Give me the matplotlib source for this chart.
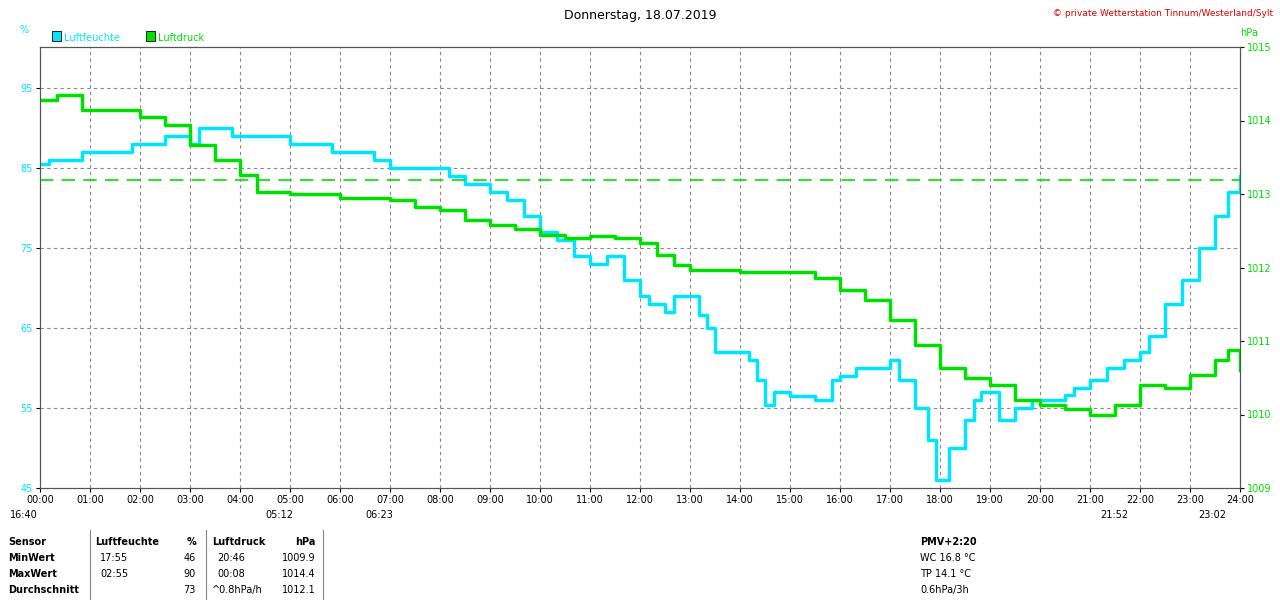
import matplotlib
matplotlib.use("Agg")
import matplotlib.pyplot as plt

# time in hours
hum_t = [0, 0.17, 0.83, 1.83, 2.5, 3.0, 3.17, 3.83, 5.0, 5.83, 6.67, 7.0, 8.17, 8.5, 9.0, 9.33,
         9.67, 10.0, 10.33, 10.67, 11.0, 11.33, 11.67, 12.0, 12.17, 12.5, 12.67, 13.17, 13.33, 13.5,
         14.17, 14.33, 14.5, 14.67, 15.0, 15.5, 15.83, 16.0, 16.33, 16.67, 17.0, 17.17, 17.5, 17.75,
         17.92, 18.17, 18.5, 18.67, 18.83, 19.17, 19.5, 19.83, 20.5, 20.67, 21.0, 21.33, 21.67, 22.0,
         22.17, 22.5, 22.83, 23.17, 23.5, 23.75, 24.0]
hum_v = [85.5, 86, 87, 88, 89, 88, 90, 89, 88, 87, 86, 85, 84, 83, 82, 81,
         79, 77, 76, 74, 73, 74, 71, 69, 68, 67, 69, 66.6, 65, 62,
         61, 58.5, 55.4, 57, 56.5, 56, 58.5, 59, 60, 60, 61, 58.5, 55, 51,
         46, 50, 53.5, 56, 57, 53.5, 55, 56, 56.6, 57.5, 58.5, 60, 61, 62,
         64, 68, 71, 75, 79, 82, 84]

pres_t = [0, 0.33, 0.83, 1.5, 2.0, 2.5, 3.0, 3.5, 4.0, 4.33, 5.0, 6.0, 7.0, 7.5, 8.0, 8.5, 9.0,
          9.5, 10.0, 10.5, 11.0, 11.5, 12.0, 12.33, 12.67, 13.0, 14.0, 15.0, 15.5, 16.0, 16.5,
          17.0, 17.5, 18.0, 18.5, 19.0, 19.5, 20.0, 20.5, 21.0, 21.5, 22.0, 22.5, 23.0, 23.5,
          23.75, 24.0]
pres_v = [1014.28, 1014.35, 1014.14, 1014.14, 1014.05, 1013.94, 1013.67, 1013.46, 1013.26,
          1013.03, 1013.0, 1012.95, 1012.92, 1012.82, 1012.78, 1012.65, 1012.58, 1012.52,
          1012.44, 1012.4, 1012.43, 1012.4, 1012.33, 1012.17, 1012.03, 1011.97, 1011.94,
          1011.94, 1011.86, 1011.69, 1011.56, 1011.29, 1010.95, 1010.63, 1010.5, 1010.4,
          1010.2, 1010.13, 1010.07, 1010.0, 1010.13, 1010.4, 1010.36, 1010.54, 1010.74,
          1010.88, 1010.61]
pres_ref = 1013.19

hour_labels = ["%02d:00" % h for h in range(25)]
hum_ticks = [45, 55, 65, 75, 85, 95]
pres_ticks = [1009, 1010, 1011, 1012, 1013, 1014, 1015]

cyan = "#00e5ff"
green = "#00e000"

fig = plt.figure(figsize=(12.8, 6), dpi=100, facecolor="white")
ax = fig.add_axes([40/1280, 112/600, 1200/1280, 441/600])
ax.set_xlim(0, 24)
ax.set_ylim(45, 100.1)
ax2 = ax.twinx()
ax2.set_ylim(1009, 1015)

for h in range(1, 24):
    ax.axvline(h, color="#888888", ls=(0, (3, 3)), lw=0.8)
for v in hum_ticks[1:]:
    ax.axhline(v, color="#888888", ls=(0, (3, 3)), lw=0.8)
ax2.axhline(pres_ref, color=green, ls=(0, (8, 5)), lw=1.2)

ax.step(hum_t, hum_v, where="post", color=cyan, lw=2.5, zorder=3)
ax2.step(pres_t, pres_v, where="post", color=green, lw=2.5)

ax.set_xticks(range(25))
ax.set_xticklabels(hour_labels, fontsize=7)
ax.set_yticks(hum_ticks)
ax.set_yticklabels([str(v) for v in hum_ticks], fontsize=7, color=cyan)
ax2.set_yticks(pres_ticks)
ax2.set_yticklabels([str(v) for v in pres_ticks], fontsize=7, color=green)
ax.tick_params(length=3, pad=2)
ax2.tick_params(length=3, pad=2)
for a in (ax, ax2):
    for s in a.spines.values():
        s.set_color("#555555")

fig.text(0.5, 0.975, "Donnerstag, 18.07.2019", ha="center", va="center", fontsize=9)
fig.text(0.995, 0.978, "© private Wetterstation Tinnum/Westerland/Sylt", ha="right", va="center",
         fontsize=6.5, color="#dd0000")
fig.text(20/1280, 0.945, "%", color=cyan, fontsize=7)
fig.text(1240/1280, 0.94, "hPa", color=green, fontsize=7)
fig.patches.append(plt.Rectangle((52/1280, 0.932), 9/1280, 0.016, transform=fig.transFigure,
                                 facecolor=cyan, edgecolor="black", lw=0.6))
fig.text(64/1280, 0.932, "Luftfeuchte", color=cyan, fontsize=7)
fig.patches.append(plt.Rectangle((146/1280, 0.932), 9/1280, 0.016, transform=fig.transFigure,
                                 facecolor=green, edgecolor="black", lw=0.6))
fig.text(158/1280, 0.932, "Luftdruck", color=green, fontsize=7)

# sun/moon times
for x, lab in [(10, "16:40"), (265, "05:12"), (365, "06:23"), (1100, "21:52"), (1198, "23:02")]:
    fig.text(x/1280, 1 - 515/600, lab, fontsize=7, va="center")

# statistics table
def t(x, y, s, **kw):
    fig.text(x/1280, 1 - y/600, s, fontsize=7, va="center", **kw)

t(8, 542, "Sensor", weight="bold")
t(8, 558, "MinWert", weight="bold")
t(8, 574, "MaxWert", weight="bold")
t(8, 590, "Durchschnitt", weight="bold")
t(95, 542, "Luftfeuchte", weight="bold")
t(196, 542, "%", weight="bold", ha="right")
t(100, 558, "17:55"); t(196, 558, "46", ha="right")
t(100, 574, "02:55"); t(196, 574, "90", ha="right")
t(196, 590, "73", ha="right")
t(212, 542, "Luftdruck", weight="bold")
t(316, 542, "hPa", weight="bold", ha="right")
t(217, 558, "20:46"); t(316, 558, "1009.9", ha="right")
t(217, 574, "00:08"); t(316, 574, "1014.4", ha="right")
t(212, 590, "^0.8hPa/h"); t(316, 590, "1012.1", ha="right")
t(920, 542, "PMV+2:20", weight="bold")
t(920, 558, "WC 16.8 °C")
t(920, 574, "TP 14.1 °C")
t(920, 590, "0.6hPa/3h")
for x in (90, 206, 323):
    fig.add_artist(plt.Line2D([x/1280, x/1280], [0, 1 - 530/600], color="#888888", lw=0.8))

fig.savefig("out.png", dpi=100)
